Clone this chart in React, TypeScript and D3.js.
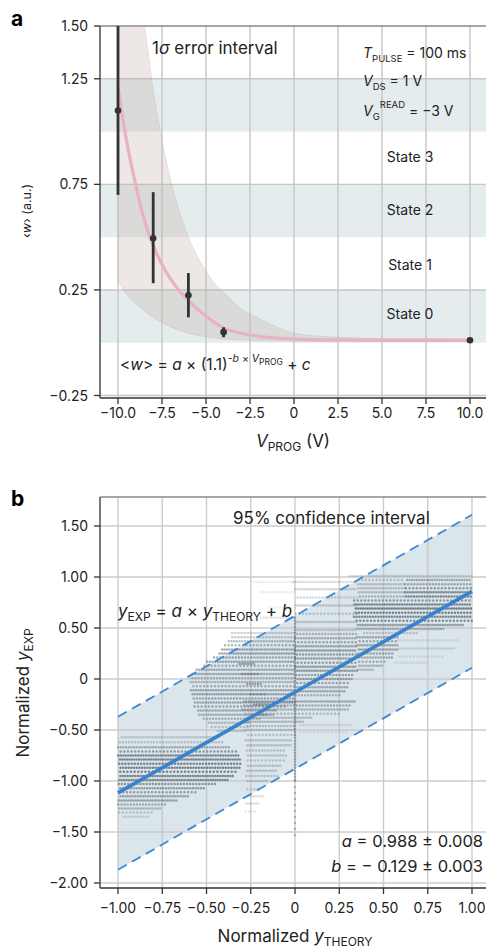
import React from 'react';
import * as d3 from 'd3';

const FONT = "Inter, 'Noto Sans', sans-serif";
const INK = '#222';
const GRID = '#c6c6c6';

// ---------------- panel a data ----------------
const vProgTicks = [-10, -7.5, -5, -2.5, 0, 2.5, 5, 7.5, 10];
const vProgTickLabels = ['−10.0', '−7.5', '−5.0', '−2.5', '0', '2.5', '5.0', '7.5', '10.0'];
const wTicks = [1.5, 1.25, 0.75, 0.25, -0.25];
const wTickLabels = ['1.50', '1.25', '0.75', '0.25', '−0.25'];
const stateBandLow = [1.0, 0.5, 0.0];
const stateBandHigh = [1.25, 0.75, 0.25];
const stateNames = ['State 3', 'State 2', 'State 1', 'State 0'];
const stateLabelW = [0.855, 0.604, 0.343, 0.111];

const measV = [-10, -8, -6, -4, 10];
const measW = [1.1, 0.495, 0.225, 0.05, 0.012];
const measLo = [0.7, 0.282, 0.12, 0.026, 0.012];
const measHi = [1.5, 0.713, 0.33, 0.073, 0.012];

const curveV = [-10, -9.5, -9, -8.5, -8, -7.5, -7, -6.5, -6, -5.5, -5, -4.5, -4, -3, -2, -1, 0, 2, 4, 6, 8, 10];
const curveW = [1.21, 0.95, 0.75, 0.58, 0.46, 0.37, 0.3, 0.245, 0.2, 0.16, 0.125, 0.095, 0.07, 0.045, 0.03, 0.022, 0.017, 0.013, 0.012, 0.011, 0.011, 0.011];
const sigmaUpper = [2.6, 2.1, 1.75, 1.5, 1.2, 0.96, 0.77, 0.62, 0.5, 0.41, 0.34, 0.28, 0.24, 0.16, 0.115, 0.075, 0.045, 0.028, 0.022, 0.02, 0.019, 0.018];
const sigmaLower = [0.29, 0.23, 0.185, 0.15, 0.12, 0.095, 0.075, 0.058, 0.045, 0.035, 0.028, 0.022, 0.018, 0.013, 0.01, 0.008, 0.007, 0.006, 0.006, 0.006, 0.006, 0.006];

// ---------------- panel b data ----------------
const thTicks = [-1, -0.75, -0.5, -0.25, 0, 0.25, 0.5, 0.75, 1];
const thTickLabels = ['−1.00', '−0.75', '−0.50', '−0.25', '0', '0.25', '0.50', '0.75', '1.00'];
const expTicks = [1.5, 1, 0.5, 0, -0.5, -1, -1.5, -2];
const expTickLabels = ['1.50', '1.00', '0.50', '0', '−0.50', '−1.00', '−1.50', '−2.00'];

const fitX = [-1, 1];
const fitY = [-1.117, 0.859];
const ciUpper = [-0.37, 1.61];
const ciLower = [-1.87, 0.11];

// horizontal streaks of measured points: [x start, x end, y, density]
const streaksLeft: [number, number, number, number][] = [
  [-0.98, -0.45, -0.57, 0.25], [-1.0, -0.4, -0.62, 0.3], [-1.0, -0.36, -0.67, 0.45],
  [-1.0, -0.33, -0.71, 0.6], [-1.0, -0.31, -0.75, 0.7], [-1.0, -0.3, -0.79, 0.7],
  [-1.0, -0.3, -0.83, 0.75], [-1.0, -0.31, -0.87, 0.75], [-1.0, -0.33, -0.91, 0.75],
  [-1.0, -0.35, -0.95, 0.7], [-1.0, -0.38, -0.99, 0.65], [-1.0, -0.45, -1.03, 0.6],
  [-1.0, -0.5, -1.07, 0.55], [-1.0, -0.55, -1.11, 0.55], [-1.0, -0.6, -1.15, 0.5],
  [-1.0, -0.66, -1.19, 0.5], [-1.0, -0.72, -1.23, 0.45], [-1.0, -0.76, -1.27, 0.4],
  [-1.0, -0.8, -1.31, 0.3], [-0.98, -0.82, -1.35, 0.2],
];
const streaksMiddle: [number, number, number, number][] = [
  [-0.36, 0.0, 0.45, 0.25], [-0.37, 0.0, 0.41, 0.35], [-0.38, 0.0, 0.37, 0.4],
  [-0.4, 0.0, 0.33, 0.45], [-0.42, 0.0, 0.29, 0.5], [-0.44, 0.0, 0.25, 0.5],
  [-0.47, 0.0, 0.21, 0.5], [-0.5, 0.0, 0.17, 0.5], [-0.53, 0.0, 0.13, 0.45],
  [-0.56, 0.0, 0.09, 0.45], [-0.58, 0.0, 0.05, 0.45], [-0.59, 0.0, 0.01, 0.4],
  [-0.59, 0.0, -0.03, 0.4], [-0.59, 0.0, -0.07, 0.45], [-0.59, 0.0, -0.11, 0.5],
  [-0.59, 0.0, -0.15, 0.5], [-0.58, 0.0, -0.19, 0.5], [-0.58, 0.0, -0.23, 0.5],
  [-0.58, -0.05, -0.27, 0.5], [-0.56, -0.1, -0.31, 0.45], [-0.55, -0.15, -0.35, 0.4],
  [-0.52, -0.2, -0.39, 0.4], [-0.5, -0.25, -0.43, 0.35], [-0.48, -0.25, -0.47, 0.3],
  [-0.45, -0.28, -0.51, 0.25],
  [-0.32, -0.22, 0.15, 0.5], [-0.3, -0.2, 0.05, 0.5], [-0.28, -0.18, -0.05, 0.5],
  [-0.26, -0.16, -0.15, 0.5], [-0.24, -0.14, -0.25, 0.5], [-0.22, -0.12, -0.35, 0.4],
  [-0.25, 0.0, 0.95, 0.12], [-0.2, 0.0, 0.85, 0.12], [-0.15, 0.0, 0.7, 0.12], [-0.2, 0.0, 0.6, 0.15],
];
const streaksLowerMiddle: [number, number, number, number][] = [
  [-0.3, 0.35, -0.22, 0.45], [-0.3, 0.32, -0.26, 0.45], [-0.3, 0.3, -0.3, 0.4],
  [-0.3, 0.25, -0.34, 0.35], [-0.28, 0.1, -0.38, 0.35], [-0.28, 0.05, -0.42, 0.35],
  [-0.28, 0.0, -0.46, 0.35], [-0.28, 0.0, -0.5, 0.3], [-0.28, 0.0, -0.55, 0.3],
  [-0.28, -0.02, -0.6, 0.3], [-0.28, -0.02, -0.65, 0.3], [-0.28, -0.05, -0.7, 0.3],
  [-0.28, -0.05, -0.75, 0.3], [-0.28, -0.05, -0.8, 0.3], [-0.28, -0.08, -0.85, 0.3],
  [-0.28, -0.1, -0.9, 0.3], [-0.28, -0.1, -0.95, 0.3], [-0.28, -0.15, -1.0, 0.25],
  [-0.28, -0.2, -1.08, 0.25], [-0.28, -0.18, -1.15, 0.2], [-0.28, -0.2, -1.22, 0.2],
  [-0.28, -0.22, -1.3, 0.15], [0.02, 0.32, -0.45, 0.15], [0.02, 0.3, -0.52, 0.12],
];
const streaksRightMiddle: [number, number, number, number][] = [
  [-0.02, 0.35, 0.95, 0.2], [0.0, 0.35, 0.88, 0.25], [0.0, 0.35, 0.8, 0.25],
  [0.0, 0.35, 0.72, 0.3], [0.0, 0.35, 0.64, 0.3], [0.0, 0.35, 0.56, 0.3],
  [0.0, 0.35, 0.48, 0.3], [0.0, 0.35, 0.44, 0.4], [0.0, 0.35, 0.4, 0.45],
  [0.0, 0.35, 0.36, 0.5], [0.0, 0.35, 0.32, 0.5], [0.0, 0.35, 0.28, 0.55],
  [0.0, 0.35, 0.24, 0.55], [0.0, 0.35, 0.2, 0.55], [0.0, 0.35, 0.16, 0.55],
  [0.0, 0.35, 0.12, 0.55], [0.0, 0.35, 0.08, 0.55], [0.0, 0.33, 0.04, 0.5],
  [0.0, 0.32, 0.0, 0.5], [0.0, 0.3, -0.04, 0.5], [0.0, 0.3, -0.08, 0.45],
  [0.0, 0.28, -0.12, 0.45], [0.0, 0.25, -0.16, 0.4],
];
const streaksRight: [number, number, number, number][] = [
  [0.3, 1.0, 1.01, 0.25],
  [0.35, 0.62, 0.97, 0.3], [0.62, 1.0, 0.97, 0.45],
  [0.35, 0.62, 0.93, 0.3], [0.62, 1.0, 0.93, 0.5],
  [0.35, 0.62, 0.89, 0.35], [0.62, 1.0, 0.89, 0.6],
  [0.35, 0.62, 0.85, 0.35], [0.62, 1.0, 0.85, 0.65],
  [0.35, 0.62, 0.81, 0.4], [0.62, 1.0, 0.81, 0.7],
  [0.33, 1.0, 0.77, 0.6], [0.33, 1.0, 0.73, 0.7], [0.33, 1.0, 0.69, 0.75],
  [0.33, 1.0, 0.65, 0.75], [0.33, 1.0, 0.61, 0.7], [0.33, 1.0, 0.57, 0.65],
  [0.35, 0.95, 0.53, 0.55], [0.35, 0.85, 0.49, 0.4], [0.38, 0.7, 0.45, 0.3],
  [0.35, 0.58, 0.41, 0.5], [0.35, 0.58, 0.37, 0.5], [0.35, 0.58, 0.33, 0.5],
  [0.35, 0.58, 0.29, 0.5], [0.35, 0.56, 0.25, 0.5], [0.35, 0.55, 0.21, 0.45],
  [0.35, 0.52, 0.17, 0.45], [0.35, 0.5, 0.13, 0.4], [0.35, 0.45, 0.09, 0.35],
  [0.58, 0.92, 0.38, 0.15], [0.58, 0.9, 0.3, 0.2], [0.58, 0.85, 0.22, 0.15],
  [0.55, 0.75, 0.16, 0.12],
];
// vertical column of points at y_THEORY = 0: [x, y top, y bottom, density]
const columnZero: [number, number, number, number][] = [
  [0.0, 0.6, -1.0, 0.6],
  [0.0, -1.0, -1.55, 0.45],
];

const allStreaks = [...streaksLeft, ...streaksMiddle, ...streaksLowerMiddle, ...streaksRightMiddle, ...streaksRight];

// ---------------- layout ----------------
const W = 486;
const H = 948;
const aLeft = 100, aTop = 26, aBottom = 398, aRight = 486;
const bLeft = 100, bTop = 497, bBottom = 888, bRight = 486;

const xA = d3.scaleLinear().domain([-10, 10]).range([118, 470]);
const yA = d3.scaleLinear().domain([1.5, -0.25]).range([26, 395.5]);
const xB = d3.scaleLinear().domain([-1, 1]).range([118, 472]);
const yB = d3.scaleLinear().domain([1.5, -2]).range([526, 883]);

const DOT = '#65717a';
const dashes = ['0 2.4', '0 3.1', '0 2.7', '0 3.6', '0 2.5'];

export default function App() {
  const curvePath = d3
    .line<number>()
    .x((_, i) => xA(curveV[i]))
    .y((d) => yA(d))
    .curve(d3.curveMonotoneX)(curveW) as string;
  const sigmaArea = d3
    .area<number>()
    .x((_, i) => xA(curveV[i]))
    .y0((_, i) => yA(sigmaLower[i]))
    .y1((d) => yA(d))
    .curve(d3.curveMonotoneX)(sigmaUpper) as string;

  const ciArea = d3
    .area<number>()
    .x((d) => xB(d))
    .y0((_, i) => yB(ciLower[i]))
    .y1((_, i) => yB(ciUpper[i]))(fitX) as string;
  const lineB = (ys: number[]) =>
    d3
      .line<number>()
      .x((d) => xB(d))
      .y((_, i) => yB(ys[i]))(fitX) as string;

  return (
    <svg width={W} height={H} style={{ display: 'block', position: 'absolute', left: 0, top: 0 }} fontFamily={FONT}>
      <defs>
        <clipPath id="clipA">
          <rect x={aLeft} y={aTop} width={aRight - aLeft} height={aBottom - aTop} />
        </clipPath>
        <clipPath id="clipB">
          <rect x={bLeft} y={bTop} width={bRight - bLeft} height={bBottom - bTop} />
        </clipPath>
      </defs>
      <rect x={0} y={0} width={W} height={H} fill="#fff" />

      {/* ================= PANEL A ================= */}
      <text x={11} y={26} fontSize={21} fontWeight={700} fill="#000">a</text>
      {stateBandLow.map((lo, i) => (
        <rect key={i} x={aLeft} y={yA(stateBandHigh[i])} width={aRight - aLeft} height={yA(lo) - yA(stateBandHigh[i])} fill="#e4ecee" />
      ))}
      {wTicks.slice(1).map((t) => (
        <line key={t} x1={aLeft} x2={aRight} y1={yA(t)} y2={yA(t)} stroke={GRID} strokeWidth={1.4} />
      ))}
      {vProgTicks.map((t) => (
        <line key={t} x1={xA(t)} x2={xA(t)} y1={aTop} y2={aBottom} stroke={GRID} strokeWidth={1.4} />
      ))}
      <line x1={aLeft} x2={aRight} y1={aTop} y2={aTop} stroke="#8a8a8a" strokeWidth={1.4} />
      <g clipPath="url(#clipA)">
        <path d={sigmaArea} fill="rgb(195,175,170)" fillOpacity={0.3} stroke="rgb(190,170,165)" strokeOpacity={0.35} strokeWidth={0.8} />
        <path d={curvePath} fill="none" stroke="#e8b2c3" strokeWidth={3.2} />
        {measV.map((v, i) => (
          <g key={v}>
            {measHi[i] > measLo[i] && (
              <line x1={xA(v)} x2={xA(v)} y1={yA(measHi[i])} y2={yA(measLo[i])} stroke="#333" strokeWidth={2.8} />
            )}
            <circle cx={xA(v)} cy={yA(measW[i])} r={3.3} fill="#333" />
          </g>
        ))}
      </g>
      {/* axes */}
      <line x1={aLeft} x2={aLeft} y1={aTop} y2={aBottom} stroke="#333" strokeWidth={1.3} />
      <line x1={aLeft} x2={aRight} y1={aBottom} y2={aBottom} stroke="#333" strokeWidth={1.3} />
      {wTicks.map((t, i) => (
        <g key={t}>
          <line x1={aLeft - 6} x2={aLeft} y1={yA(t)} y2={yA(t)} stroke="#333" strokeWidth={1.3} />
          <text x={88} y={yA(t)} dy="0.36em" textAnchor="end" fontSize={14} fill={INK}>{wTickLabels[i]}</text>
        </g>
      ))}
      {vProgTicks.map((t, i) => (
        <g key={t}>
          <line x1={xA(t)} x2={xA(t)} y1={aBottom} y2={aBottom + 6} stroke="#333" strokeWidth={1.3} />
          <text x={xA(t)} y={418} textAnchor="middle" fontSize={14} fill={INK}>{vProgTickLabels[i]}</text>
        </g>
      ))}
      <text x={293} y={447} textAnchor="middle" fontSize={17} fill={INK}>
        <tspan fontStyle="italic">V</tspan>
        <tspan fontSize={12} dy={4}>PROG</tspan>
        <tspan dy={-4}>{' (V)'}</tspan>
      </text>
      <text transform="translate(31,211) rotate(-90)" textAnchor="middle" fontSize={12.5} fill={INK}>
        <tspan>‹</tspan>
        <tspan fontStyle="italic">w</tspan>
        <tspan>{'› (a.u.)'}</tspan>
      </text>
      {/* annotations */}
      <text x={152} y={54} fontSize={17} fill={INK}>
        <tspan>1</tspan>
        <tspan fontStyle="italic">σ</tspan>
        <tspan>{' error interval'}</tspan>
      </text>
      <text x={363} y={58} fontSize={14} fill={INK}>
        <tspan fontStyle="italic">T</tspan>
        <tspan fontSize={9.5} dy={4}>PULSE</tspan>
        <tspan dy={-4}>{' = 100 ms'}</tspan>
      </text>
      <text x={363} y={86} fontSize={14} fill={INK}>
        <tspan fontStyle="italic">V</tspan>
        <tspan fontSize={9.5} dy={4}>DS</tspan>
        <tspan dy={-4}>{' = 1 V'}</tspan>
      </text>
      <text x={363} y={116} fontSize={14} fill={INK}>
        <tspan fontStyle="italic">V</tspan>
        <tspan fontSize={9.5} dy={4}>G</tspan>
        <tspan fontSize={9.5} dy={-12}>READ</tspan>
        <tspan dy={8}>{' = −3 V'}</tspan>
      </text>
      {stateNames.map((s, i) => (
        <text key={s} x={410} y={yA(stateLabelW[i])} textAnchor="middle" fontSize={14} fill={INK}>{s}</text>
      ))}
      <text x={120} y={370} fontSize={15.5} fill={INK}>
        <tspan>{'<'}</tspan>
        <tspan fontStyle="italic">w</tspan>
        <tspan>{'> = '}</tspan>
        <tspan fontStyle="italic">a</tspan>
        <tspan>{' × (1.1)'}</tspan>
        <tspan fontSize={10.5} dy={-8}>{'-'}</tspan>
        <tspan fontSize={10.5} fontStyle="italic">b</tspan>
        <tspan fontSize={10.5}>{' × '}</tspan>
        <tspan fontSize={10.5} fontStyle="italic">V</tspan>
        <tspan fontSize={8.5} dy={3}>PROG</tspan>
        <tspan dy={5}>{' + '}</tspan>
        <tspan fontStyle="italic">c</tspan>
      </text>

      {/* ================= PANEL B ================= */}
      <text x={11} y={506} fontSize={21} fontWeight={700} fill="#000">b</text>
      <path d={ciArea} fill="#dae5ec" />
      {expTicks.map((t) => (
        <line key={t} x1={bLeft} x2={bRight} y1={yB(t)} y2={yB(t)} stroke={GRID} strokeWidth={1.4} strokeOpacity={0.9} />
      ))}
      {thTicks.map((t) => (
        <line key={t} x1={xB(t)} x2={xB(t)} y1={bTop} y2={bBottom} stroke={GRID} strokeWidth={1.4} strokeOpacity={0.9} />
      ))}
      <line x1={bLeft} x2={bRight} y1={bTop} y2={bTop} stroke="#8a8a8a" strokeWidth={1.4} />
      <g clipPath="url(#clipB)">
        {allStreaks.map(([x0, x1, y, a], i) => (
          <line key={i} x1={xB(x0)} x2={xB(x1)} y1={yB(y)} y2={yB(y)} stroke={DOT} strokeOpacity={Math.min(0.9, a * 1.15)} strokeWidth={2.5} strokeLinecap="round" strokeDasharray={dashes[i % dashes.length]} strokeDashoffset={(i * 1.3) % 3} />
        ))}
        {columnZero.map(([x, y0, y1, a], i) => (
          <line key={i} x1={xB(x)} x2={xB(x)} y1={yB(y0)} y2={yB(y1)} stroke={DOT} strokeOpacity={a} strokeWidth={2.5} strokeLinecap="round" strokeDasharray={i === 0 ? '0 3' : '0 6'} />
        ))}
        <path d={lineB(ciUpper)} fill="none" stroke="#3d88d4" strokeWidth={1.8} strokeDasharray="10 6" />
        <path d={lineB(ciLower)} fill="none" stroke="#3d88d4" strokeWidth={1.8} strokeDasharray="10 6" />
        <path d={lineB(fitY)} fill="none" stroke="#3a82cc" strokeWidth={3.6} />
      </g>
      <line x1={bLeft} x2={bLeft} y1={bTop} y2={bBottom} stroke="#333" strokeWidth={1.3} />
      <line x1={bLeft} x2={bRight} y1={bBottom} y2={bBottom} stroke="#333" strokeWidth={1.3} />
      {expTicks.map((t, i) => (
        <g key={t}>
          <line x1={bLeft - 6} x2={bLeft} y1={yB(t)} y2={yB(t)} stroke="#333" strokeWidth={1.3} />
          <text x={88} y={yB(t)} dy="0.36em" textAnchor="end" fontSize={14} fill={INK}>{expTickLabels[i]}</text>
        </g>
      ))}
      {thTicks.map((t, i) => (
        <g key={t}>
          <line x1={xB(t)} x2={xB(t)} y1={bBottom} y2={bBottom + 6} stroke="#333" strokeWidth={1.3} />
          <text x={xB(t)} y={913} textAnchor="middle" fontSize={14} fill={INK}>{thTickLabels[i]}</text>
        </g>
      ))}
      <text x={295} y={942} textAnchor="middle" fontSize={17} fill={INK}>
        <tspan>{'Normalized '}</tspan>
        <tspan fontStyle="italic">y</tspan>
        <tspan fontSize={12} dy={4}>THEORY</tspan>
      </text>
      <text transform="translate(29,693) rotate(-90)" textAnchor="middle" fontSize={17} fill={INK}>
        <tspan>{'Normalized '}</tspan>
        <tspan fontStyle="italic">y</tspan>
        <tspan fontSize={12} dy={4}>EXP</tspan>
      </text>
      <text x={233} y={524} fontSize={17} fill={INK}>95% confidence interval</text>
      <text x={118} y={617} fontSize={17} fill={INK}>
        <tspan fontStyle="italic">y</tspan>
        <tspan fontSize={12} dy={4}>EXP</tspan>
        <tspan dy={-4}>{' = '}</tspan>
        <tspan fontStyle="italic">a</tspan>
        <tspan>{' × '}</tspan>
        <tspan fontStyle="italic">y</tspan>
        <tspan fontSize={12} dy={4}>THEORY</tspan>
        <tspan dy={-4}>{' + '}</tspan>
        <tspan fontStyle="italic">b</tspan>
      </text>
      <text x={483} y={847} textAnchor="end" fontSize={16.5} fill={INK}>
        <tspan fontStyle="italic">a</tspan>
        <tspan>{' = 0.988 ± 0.008'}</tspan>
      </text>
      <text x={483} y={872} textAnchor="end" fontSize={16.5} fill={INK}>
        <tspan fontStyle="italic">b</tspan>
        <tspan>{' = − 0.129 ± 0.003'}</tspan>
      </text>
    </svg>
  );
}
